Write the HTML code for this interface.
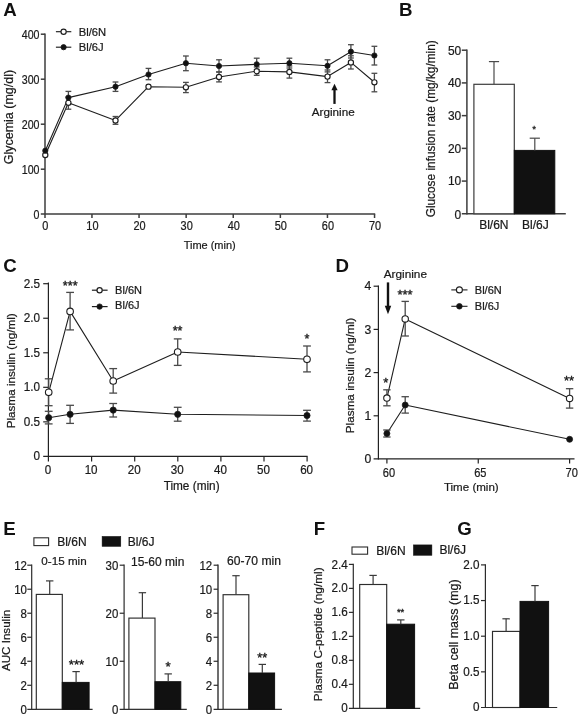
<!DOCTYPE html>
<html><head><meta charset="utf-8"><title>Figure</title>
<style>
html,body{margin:0;padding:0;background:#fff;}
body{width:578px;height:718px;overflow:hidden;font-family:"Liberation Sans",sans-serif;}
svg{display:block;will-change:transform;}
svg text{font-family:"Liberation Sans",sans-serif;}
</style></head><body>
<svg width="578" height="718" viewBox="0 0 578 718">
<rect x="0" y="0" width="578" height="718" fill="#ffffff"/>
<text transform="translate(3.3 15.7)" font-size="18.7" text-anchor="start" font-weight="bold" fill="#111">A</text>
<line x1="45" y1="33.5" x2="45" y2="218" stroke="#3c3c3c" stroke-width="1.5" stroke-linecap="butt"/>
<line x1="40.8" y1="214.1" x2="375.2" y2="214.1" stroke="#3c3c3c" stroke-width="1.5" stroke-linecap="butt"/>
<line x1="40.8" y1="34.2" x2="45" y2="34.2" stroke="#3c3c3c" stroke-width="1.5" stroke-linecap="butt"/>
<text transform="translate(39.5 38.6) scale(0.88 1)" font-size="12.1" text-anchor="end" font-weight="normal" fill="#1a1a1a" stroke="#1a1a1a" stroke-width="0.22">400</text>
<line x1="40.8" y1="79.2" x2="45" y2="79.2" stroke="#3c3c3c" stroke-width="1.5" stroke-linecap="butt"/>
<text transform="translate(39.5 83.6) scale(0.88 1)" font-size="12.1" text-anchor="end" font-weight="normal" fill="#1a1a1a" stroke="#1a1a1a" stroke-width="0.22">300</text>
<line x1="40.8" y1="124.2" x2="45" y2="124.2" stroke="#3c3c3c" stroke-width="1.5" stroke-linecap="butt"/>
<text transform="translate(39.5 128.6) scale(0.88 1)" font-size="12.1" text-anchor="end" font-weight="normal" fill="#1a1a1a" stroke="#1a1a1a" stroke-width="0.22">200</text>
<line x1="40.8" y1="169.2" x2="45" y2="169.2" stroke="#3c3c3c" stroke-width="1.5" stroke-linecap="butt"/>
<text transform="translate(39.5 173.6) scale(0.88 1)" font-size="12.1" text-anchor="end" font-weight="normal" fill="#1a1a1a" stroke="#1a1a1a" stroke-width="0.22">100</text>
<text transform="translate(39.5 218.6) scale(0.88 1)" font-size="12.1" text-anchor="end" font-weight="normal" fill="#1a1a1a" stroke="#1a1a1a" stroke-width="0.22">0</text>
<text transform="translate(45.35 229.8) scale(0.92 1)" font-size="11.9" text-anchor="middle" font-weight="normal" fill="#1a1a1a" stroke="#1a1a1a" stroke-width="0.22">0</text>
<line x1="91.95" y1="214.1" x2="91.95" y2="218" stroke="#3c3c3c" stroke-width="1.5" stroke-linecap="butt"/>
<text transform="translate(92.45 229.8) scale(0.92 1)" font-size="11.9" text-anchor="middle" font-weight="normal" fill="#1a1a1a" stroke="#1a1a1a" stroke-width="0.22">10</text>
<line x1="139.05" y1="214.1" x2="139.05" y2="218" stroke="#3c3c3c" stroke-width="1.5" stroke-linecap="butt"/>
<text transform="translate(139.55 229.8) scale(0.92 1)" font-size="11.9" text-anchor="middle" font-weight="normal" fill="#1a1a1a" stroke="#1a1a1a" stroke-width="0.22">20</text>
<line x1="186.15" y1="214.1" x2="186.15" y2="218" stroke="#3c3c3c" stroke-width="1.5" stroke-linecap="butt"/>
<text transform="translate(186.65 229.8) scale(0.92 1)" font-size="11.9" text-anchor="middle" font-weight="normal" fill="#1a1a1a" stroke="#1a1a1a" stroke-width="0.22">30</text>
<line x1="233.25" y1="214.1" x2="233.25" y2="218" stroke="#3c3c3c" stroke-width="1.5" stroke-linecap="butt"/>
<text transform="translate(233.75 229.8) scale(0.92 1)" font-size="11.9" text-anchor="middle" font-weight="normal" fill="#1a1a1a" stroke="#1a1a1a" stroke-width="0.22">40</text>
<line x1="280.35" y1="214.1" x2="280.35" y2="218" stroke="#3c3c3c" stroke-width="1.5" stroke-linecap="butt"/>
<text transform="translate(280.85 229.8) scale(0.92 1)" font-size="11.9" text-anchor="middle" font-weight="normal" fill="#1a1a1a" stroke="#1a1a1a" stroke-width="0.22">50</text>
<line x1="327.45" y1="214.1" x2="327.45" y2="218" stroke="#3c3c3c" stroke-width="1.5" stroke-linecap="butt"/>
<text transform="translate(327.95 229.8) scale(0.92 1)" font-size="11.9" text-anchor="middle" font-weight="normal" fill="#1a1a1a" stroke="#1a1a1a" stroke-width="0.22">60</text>
<line x1="374.55" y1="214.1" x2="374.55" y2="218" stroke="#3c3c3c" stroke-width="1.5" stroke-linecap="butt"/>
<text transform="translate(375.05 229.8) scale(0.92 1)" font-size="11.9" text-anchor="middle" font-weight="normal" fill="#1a1a1a" stroke="#1a1a1a" stroke-width="0.22">70</text>
<text transform="translate(209.7 248.5) scale(0.94 1)" font-size="11.7" text-anchor="middle" font-weight="normal" fill="#1a1a1a" stroke="#1a1a1a" stroke-width="0.22">Time (min)</text>
<text transform="translate(12.7 164.3) rotate(-90)" font-size="12.5" text-anchor="start" font-weight="normal" fill="#1a1a1a" stroke="#1a1a1a" stroke-width="0.22">Glycemia (mg/dl)</text>
<line x1="55.9" y1="31.7" x2="71.3" y2="31.7" stroke="#1e1e1e" stroke-width="1.15" stroke-linecap="butt"/>
<circle cx="63.6" cy="31.7" r="2.6" fill="#fff" stroke="#1e1e1e" stroke-width="1.15"/>
<line x1="55.9" y1="47.2" x2="71.3" y2="47.2" stroke="#1e1e1e" stroke-width="1.15" stroke-linecap="butt"/>
<circle cx="63.6" cy="47.2" r="2.6" fill="#111" stroke="#1e1e1e" stroke-width="0.9"/>
<text transform="translate(78.8 35.7)" font-size="11.2" text-anchor="start" font-weight="normal" fill="#1a1a1a" stroke="#1a1a1a" stroke-width="0.22">Bl/6N</text>
<text transform="translate(78.8 51.2)" font-size="11.2" text-anchor="start" font-weight="normal" fill="#1a1a1a" stroke="#1a1a1a" stroke-width="0.22">Bl/6J</text>
<polyline points="45.3,155 68.4,102.8 115.5,120.4 148.5,86.7 185.9,87.3 219,77 256.7,71.2 289.4,71.9 327.5,76.6 350.9,62.4 374.4,82.3" fill="none" stroke="#1e1e1e" stroke-width="1.12" stroke-linejoin="round"/>
<polyline points="45.3,150.7 68.4,97.6 115.5,86.7 148.5,74.5 185.9,63.2 219,66 256.7,64.3 289.4,63.2 327.5,65.8 350.9,51.7 374.4,55.5" fill="none" stroke="#1e1e1e" stroke-width="1.12" stroke-linejoin="round"/>
<line x1="68.4" y1="97" x2="68.4" y2="109.2" stroke="#4a4a4a" stroke-width="1.3" stroke-linecap="butt"/>
<line x1="65.5" y1="97" x2="71.3" y2="97" stroke="#4a4a4a" stroke-width="1.3" stroke-linecap="butt"/>
<line x1="65.5" y1="109.2" x2="71.3" y2="109.2" stroke="#4a4a4a" stroke-width="1.3" stroke-linecap="butt"/>
<line x1="115.5" y1="116.5" x2="115.5" y2="124.3" stroke="#4a4a4a" stroke-width="1.3" stroke-linecap="butt"/>
<line x1="112.6" y1="116.5" x2="118.4" y2="116.5" stroke="#4a4a4a" stroke-width="1.3" stroke-linecap="butt"/>
<line x1="112.6" y1="124.3" x2="118.4" y2="124.3" stroke="#4a4a4a" stroke-width="1.3" stroke-linecap="butt"/>
<line x1="185.9" y1="82.4" x2="185.9" y2="92.6" stroke="#4a4a4a" stroke-width="1.3" stroke-linecap="butt"/>
<line x1="183" y1="82.4" x2="188.8" y2="82.4" stroke="#4a4a4a" stroke-width="1.3" stroke-linecap="butt"/>
<line x1="183" y1="92.6" x2="188.8" y2="92.6" stroke="#4a4a4a" stroke-width="1.3" stroke-linecap="butt"/>
<line x1="219" y1="72" x2="219" y2="81.9" stroke="#4a4a4a" stroke-width="1.3" stroke-linecap="butt"/>
<line x1="216.1" y1="72" x2="221.9" y2="72" stroke="#4a4a4a" stroke-width="1.3" stroke-linecap="butt"/>
<line x1="216.1" y1="81.9" x2="221.9" y2="81.9" stroke="#4a4a4a" stroke-width="1.3" stroke-linecap="butt"/>
<line x1="256.7" y1="67" x2="256.7" y2="75.3" stroke="#4a4a4a" stroke-width="1.3" stroke-linecap="butt"/>
<line x1="253.8" y1="67" x2="259.6" y2="67" stroke="#4a4a4a" stroke-width="1.3" stroke-linecap="butt"/>
<line x1="253.8" y1="75.3" x2="259.6" y2="75.3" stroke="#4a4a4a" stroke-width="1.3" stroke-linecap="butt"/>
<line x1="289.4" y1="66" x2="289.4" y2="78.1" stroke="#4a4a4a" stroke-width="1.3" stroke-linecap="butt"/>
<line x1="286.5" y1="66" x2="292.3" y2="66" stroke="#4a4a4a" stroke-width="1.3" stroke-linecap="butt"/>
<line x1="286.5" y1="78.1" x2="292.3" y2="78.1" stroke="#4a4a4a" stroke-width="1.3" stroke-linecap="butt"/>
<line x1="327.5" y1="70" x2="327.5" y2="82.6" stroke="#4a4a4a" stroke-width="1.3" stroke-linecap="butt"/>
<line x1="324.6" y1="70" x2="330.4" y2="70" stroke="#4a4a4a" stroke-width="1.3" stroke-linecap="butt"/>
<line x1="324.6" y1="82.6" x2="330.4" y2="82.6" stroke="#4a4a4a" stroke-width="1.3" stroke-linecap="butt"/>
<line x1="350.9" y1="55.8" x2="350.9" y2="69" stroke="#4a4a4a" stroke-width="1.3" stroke-linecap="butt"/>
<line x1="348" y1="55.8" x2="353.8" y2="55.8" stroke="#4a4a4a" stroke-width="1.3" stroke-linecap="butt"/>
<line x1="348" y1="69" x2="353.8" y2="69" stroke="#4a4a4a" stroke-width="1.3" stroke-linecap="butt"/>
<line x1="374.4" y1="73.3" x2="374.4" y2="91.8" stroke="#4a4a4a" stroke-width="1.3" stroke-linecap="butt"/>
<line x1="371.5" y1="73.3" x2="377.3" y2="73.3" stroke="#4a4a4a" stroke-width="1.3" stroke-linecap="butt"/>
<line x1="371.5" y1="91.8" x2="377.3" y2="91.8" stroke="#4a4a4a" stroke-width="1.3" stroke-linecap="butt"/>
<line x1="68.4" y1="91.4" x2="68.4" y2="104" stroke="#4a4a4a" stroke-width="1.3" stroke-linecap="butt"/>
<line x1="65.5" y1="91.4" x2="71.3" y2="91.4" stroke="#4a4a4a" stroke-width="1.3" stroke-linecap="butt"/>
<line x1="65.5" y1="104" x2="71.3" y2="104" stroke="#4a4a4a" stroke-width="1.3" stroke-linecap="butt"/>
<line x1="115.5" y1="82" x2="115.5" y2="91.4" stroke="#4a4a4a" stroke-width="1.3" stroke-linecap="butt"/>
<line x1="112.6" y1="82" x2="118.4" y2="82" stroke="#4a4a4a" stroke-width="1.3" stroke-linecap="butt"/>
<line x1="112.6" y1="91.4" x2="118.4" y2="91.4" stroke="#4a4a4a" stroke-width="1.3" stroke-linecap="butt"/>
<line x1="148.5" y1="68.4" x2="148.5" y2="79.7" stroke="#4a4a4a" stroke-width="1.3" stroke-linecap="butt"/>
<line x1="145.6" y1="68.4" x2="151.4" y2="68.4" stroke="#4a4a4a" stroke-width="1.3" stroke-linecap="butt"/>
<line x1="145.6" y1="79.7" x2="151.4" y2="79.7" stroke="#4a4a4a" stroke-width="1.3" stroke-linecap="butt"/>
<line x1="185.9" y1="56" x2="185.9" y2="70.7" stroke="#4a4a4a" stroke-width="1.3" stroke-linecap="butt"/>
<line x1="183" y1="56" x2="188.8" y2="56" stroke="#4a4a4a" stroke-width="1.3" stroke-linecap="butt"/>
<line x1="183" y1="70.7" x2="188.8" y2="70.7" stroke="#4a4a4a" stroke-width="1.3" stroke-linecap="butt"/>
<line x1="219" y1="59.8" x2="219" y2="72" stroke="#4a4a4a" stroke-width="1.3" stroke-linecap="butt"/>
<line x1="216.1" y1="59.8" x2="221.9" y2="59.8" stroke="#4a4a4a" stroke-width="1.3" stroke-linecap="butt"/>
<line x1="216.1" y1="72" x2="221.9" y2="72" stroke="#4a4a4a" stroke-width="1.3" stroke-linecap="butt"/>
<line x1="256.7" y1="58.2" x2="256.7" y2="69.5" stroke="#4a4a4a" stroke-width="1.3" stroke-linecap="butt"/>
<line x1="253.8" y1="58.2" x2="259.6" y2="58.2" stroke="#4a4a4a" stroke-width="1.3" stroke-linecap="butt"/>
<line x1="253.8" y1="69.5" x2="259.6" y2="69.5" stroke="#4a4a4a" stroke-width="1.3" stroke-linecap="butt"/>
<line x1="289.4" y1="58.2" x2="289.4" y2="68" stroke="#4a4a4a" stroke-width="1.3" stroke-linecap="butt"/>
<line x1="286.5" y1="58.2" x2="292.3" y2="58.2" stroke="#4a4a4a" stroke-width="1.3" stroke-linecap="butt"/>
<line x1="286.5" y1="68" x2="292.3" y2="68" stroke="#4a4a4a" stroke-width="1.3" stroke-linecap="butt"/>
<line x1="327.5" y1="59.8" x2="327.5" y2="71.9" stroke="#4a4a4a" stroke-width="1.3" stroke-linecap="butt"/>
<line x1="324.6" y1="59.8" x2="330.4" y2="59.8" stroke="#4a4a4a" stroke-width="1.3" stroke-linecap="butt"/>
<line x1="324.6" y1="71.9" x2="330.4" y2="71.9" stroke="#4a4a4a" stroke-width="1.3" stroke-linecap="butt"/>
<line x1="350.9" y1="44.7" x2="350.9" y2="58" stroke="#4a4a4a" stroke-width="1.3" stroke-linecap="butt"/>
<line x1="348" y1="44.7" x2="353.8" y2="44.7" stroke="#4a4a4a" stroke-width="1.3" stroke-linecap="butt"/>
<line x1="348" y1="58" x2="353.8" y2="58" stroke="#4a4a4a" stroke-width="1.3" stroke-linecap="butt"/>
<line x1="374.4" y1="46.3" x2="374.4" y2="65" stroke="#4a4a4a" stroke-width="1.3" stroke-linecap="butt"/>
<line x1="371.5" y1="46.3" x2="377.3" y2="46.3" stroke="#4a4a4a" stroke-width="1.3" stroke-linecap="butt"/>
<line x1="371.5" y1="65" x2="377.3" y2="65" stroke="#4a4a4a" stroke-width="1.3" stroke-linecap="butt"/>
<circle cx="45.3" cy="155" r="2.6" fill="#fff" stroke="#1e1e1e" stroke-width="1.15"/>
<circle cx="68.4" cy="102.8" r="2.6" fill="#fff" stroke="#1e1e1e" stroke-width="1.15"/>
<circle cx="115.5" cy="120.4" r="2.6" fill="#fff" stroke="#1e1e1e" stroke-width="1.15"/>
<circle cx="148.5" cy="86.7" r="2.6" fill="#fff" stroke="#1e1e1e" stroke-width="1.15"/>
<circle cx="185.9" cy="87.3" r="2.6" fill="#fff" stroke="#1e1e1e" stroke-width="1.15"/>
<circle cx="219" cy="77" r="2.6" fill="#fff" stroke="#1e1e1e" stroke-width="1.15"/>
<circle cx="256.7" cy="71.2" r="2.6" fill="#fff" stroke="#1e1e1e" stroke-width="1.15"/>
<circle cx="289.4" cy="71.9" r="2.6" fill="#fff" stroke="#1e1e1e" stroke-width="1.15"/>
<circle cx="327.5" cy="76.6" r="2.6" fill="#fff" stroke="#1e1e1e" stroke-width="1.15"/>
<circle cx="350.9" cy="62.4" r="2.6" fill="#fff" stroke="#1e1e1e" stroke-width="1.15"/>
<circle cx="374.4" cy="82.3" r="2.6" fill="#fff" stroke="#1e1e1e" stroke-width="1.15"/>
<circle cx="45.3" cy="150.7" r="2.6" fill="#111" stroke="#1e1e1e" stroke-width="0.9"/>
<circle cx="68.4" cy="97.6" r="2.6" fill="#111" stroke="#1e1e1e" stroke-width="0.9"/>
<circle cx="115.5" cy="86.7" r="2.6" fill="#111" stroke="#1e1e1e" stroke-width="0.9"/>
<circle cx="148.5" cy="74.5" r="2.6" fill="#111" stroke="#1e1e1e" stroke-width="0.9"/>
<circle cx="185.9" cy="63.2" r="2.6" fill="#111" stroke="#1e1e1e" stroke-width="0.9"/>
<circle cx="219" cy="66" r="2.6" fill="#111" stroke="#1e1e1e" stroke-width="0.9"/>
<circle cx="256.7" cy="64.3" r="2.6" fill="#111" stroke="#1e1e1e" stroke-width="0.9"/>
<circle cx="289.4" cy="63.2" r="2.6" fill="#111" stroke="#1e1e1e" stroke-width="0.9"/>
<circle cx="327.5" cy="65.8" r="2.6" fill="#111" stroke="#1e1e1e" stroke-width="0.9"/>
<circle cx="350.9" cy="51.7" r="2.6" fill="#111" stroke="#1e1e1e" stroke-width="0.9"/>
<circle cx="374.4" cy="55.5" r="2.6" fill="#111" stroke="#1e1e1e" stroke-width="0.9"/>
<line x1="334.5" y1="103.9" x2="334.5" y2="87.66" stroke="#111" stroke-width="2.3" stroke-linecap="butt"/>
<polygon points="331.4,90.3 337.6,90.3 334.5,83.7" fill="#111"/>
<text transform="translate(333.2 116)" font-size="11.7" text-anchor="middle" font-weight="normal" fill="#1a1a1a" stroke="#1a1a1a" stroke-width="0.22">Arginine</text>
<text transform="translate(399 15.8)" font-size="18.7" text-anchor="start" font-weight="bold" fill="#111">B</text>
<line x1="466.9" y1="49.6" x2="466.9" y2="214.5" stroke="#3c3c3c" stroke-width="1.5" stroke-linecap="butt"/>
<line x1="461.8" y1="213.8" x2="565.8" y2="213.8" stroke="#3c3c3c" stroke-width="1.5" stroke-linecap="butt"/>
<line x1="461.8" y1="50.2" x2="466.9" y2="50.2" stroke="#3c3c3c" stroke-width="1.5" stroke-linecap="butt"/>
<text transform="translate(461.2 54.6) scale(0.92 1)" font-size="13.0" text-anchor="end" font-weight="normal" fill="#1a1a1a" stroke="#1a1a1a" stroke-width="0.22">50</text>
<line x1="461.8" y1="82.92" x2="466.9" y2="82.92" stroke="#3c3c3c" stroke-width="1.5" stroke-linecap="butt"/>
<text transform="translate(461.2 87.32) scale(0.92 1)" font-size="13.0" text-anchor="end" font-weight="normal" fill="#1a1a1a" stroke="#1a1a1a" stroke-width="0.22">40</text>
<line x1="461.8" y1="115.64" x2="466.9" y2="115.64" stroke="#3c3c3c" stroke-width="1.5" stroke-linecap="butt"/>
<text transform="translate(461.2 120.04) scale(0.92 1)" font-size="13.0" text-anchor="end" font-weight="normal" fill="#1a1a1a" stroke="#1a1a1a" stroke-width="0.22">30</text>
<line x1="461.8" y1="148.36" x2="466.9" y2="148.36" stroke="#3c3c3c" stroke-width="1.5" stroke-linecap="butt"/>
<text transform="translate(461.2 152.76) scale(0.92 1)" font-size="13.0" text-anchor="end" font-weight="normal" fill="#1a1a1a" stroke="#1a1a1a" stroke-width="0.22">20</text>
<line x1="461.8" y1="181.08" x2="466.9" y2="181.08" stroke="#3c3c3c" stroke-width="1.5" stroke-linecap="butt"/>
<text transform="translate(461.2 185.48) scale(0.92 1)" font-size="13.0" text-anchor="end" font-weight="normal" fill="#1a1a1a" stroke="#1a1a1a" stroke-width="0.22">10</text>
<text transform="translate(461.2 219.1) scale(0.92 1)" font-size="13.0" text-anchor="end" font-weight="normal" fill="#1a1a1a" stroke="#1a1a1a" stroke-width="0.22">0</text>
<rect x="473.9" y="84.3" width="40.4" height="129.5" fill="#fff" stroke="#3c3c3c" stroke-width="1.2"/>
<rect x="514.3" y="150.4" width="40.5" height="63.4" fill="#111" stroke="#111" stroke-width="1.0"/>
<line x1="494" y1="61.6" x2="494" y2="84.3" stroke="#4a4a4a" stroke-width="1.2" stroke-linecap="butt"/>
<line x1="488.9" y1="61.6" x2="499.1" y2="61.6" stroke="#4a4a4a" stroke-width="1.2" stroke-linecap="butt"/>
<line x1="534.8" y1="138.2" x2="534.8" y2="150.4" stroke="#4a4a4a" stroke-width="1.2" stroke-linecap="butt"/>
<line x1="529.7" y1="138.2" x2="539.9" y2="138.2" stroke="#4a4a4a" stroke-width="1.2" stroke-linecap="butt"/>
<text transform="translate(534.1 131.9)" font-size="9.8" text-anchor="middle" font-weight="normal" fill="#1a1a1a" stroke="#1a1a1a" stroke-width="0.3">*</text>
<text transform="translate(493.8 228.7)" font-size="12.0" text-anchor="middle" font-weight="normal" fill="#1a1a1a" stroke="#1a1a1a" stroke-width="0.22">Bl/6N</text>
<text transform="translate(535.4 228.7)" font-size="12.0" text-anchor="middle" font-weight="normal" fill="#1a1a1a" stroke="#1a1a1a" stroke-width="0.22">Bl/6J</text>
<text transform="translate(434.8 128.8) rotate(-90)" font-size="11.85" text-anchor="middle" font-weight="normal" fill="#1a1a1a" stroke="#1a1a1a" stroke-width="0.22">Glucose infusion rate (mg/kg/min)</text>
<text transform="translate(3.3 272)" font-size="18.7" text-anchor="start" font-weight="bold" fill="#111">C</text>
<line x1="48.4" y1="282.6" x2="48.4" y2="461.5" stroke="#222" stroke-width="1.2" stroke-linecap="butt"/>
<line x1="43.2" y1="456.4" x2="307.6" y2="456.4" stroke="#222" stroke-width="1.2" stroke-linecap="butt"/>
<line x1="43.2" y1="283.7" x2="48.4" y2="283.7" stroke="#222" stroke-width="1.2" stroke-linecap="butt"/>
<text transform="translate(40 287.6) scale(0.89 1)" font-size="13.2" text-anchor="end" font-weight="normal" fill="#1a1a1a" stroke="#1a1a1a" stroke-width="0.22">2.5</text>
<line x1="43.2" y1="318.24" x2="48.4" y2="318.24" stroke="#222" stroke-width="1.2" stroke-linecap="butt"/>
<text transform="translate(40 322.14) scale(0.89 1)" font-size="13.2" text-anchor="end" font-weight="normal" fill="#1a1a1a" stroke="#1a1a1a" stroke-width="0.22">2.0</text>
<line x1="43.2" y1="352.78" x2="48.4" y2="352.78" stroke="#222" stroke-width="1.2" stroke-linecap="butt"/>
<text transform="translate(40 356.68) scale(0.89 1)" font-size="13.2" text-anchor="end" font-weight="normal" fill="#1a1a1a" stroke="#1a1a1a" stroke-width="0.22">1.5</text>
<line x1="43.2" y1="387.32" x2="48.4" y2="387.32" stroke="#222" stroke-width="1.2" stroke-linecap="butt"/>
<text transform="translate(40 391.22) scale(0.89 1)" font-size="13.2" text-anchor="end" font-weight="normal" fill="#1a1a1a" stroke="#1a1a1a" stroke-width="0.22">1.0</text>
<line x1="43.2" y1="421.86" x2="48.4" y2="421.86" stroke="#222" stroke-width="1.2" stroke-linecap="butt"/>
<text transform="translate(40 425.76) scale(0.89 1)" font-size="13.2" text-anchor="end" font-weight="normal" fill="#1a1a1a" stroke="#1a1a1a" stroke-width="0.22">0.5</text>
<text transform="translate(40 460.3) scale(0.89 1)" font-size="13.2" text-anchor="end" font-weight="normal" fill="#1a1a1a" stroke="#1a1a1a" stroke-width="0.22">0</text>
<text transform="translate(48 474) scale(0.9 1)" font-size="12.9" text-anchor="middle" font-weight="normal" fill="#1a1a1a" stroke="#1a1a1a" stroke-width="0.22">0</text>
<line x1="91.6" y1="456.4" x2="91.6" y2="461.5" stroke="#222" stroke-width="1.2" stroke-linecap="butt"/>
<text transform="translate(91.1 474) scale(0.9 1)" font-size="12.9" text-anchor="middle" font-weight="normal" fill="#1a1a1a" stroke="#1a1a1a" stroke-width="0.22">10</text>
<line x1="134.7" y1="456.4" x2="134.7" y2="461.5" stroke="#222" stroke-width="1.2" stroke-linecap="butt"/>
<text transform="translate(134.2 474) scale(0.9 1)" font-size="12.9" text-anchor="middle" font-weight="normal" fill="#1a1a1a" stroke="#1a1a1a" stroke-width="0.22">20</text>
<line x1="177.8" y1="456.4" x2="177.8" y2="461.5" stroke="#222" stroke-width="1.2" stroke-linecap="butt"/>
<text transform="translate(177.3 474) scale(0.9 1)" font-size="12.9" text-anchor="middle" font-weight="normal" fill="#1a1a1a" stroke="#1a1a1a" stroke-width="0.22">30</text>
<line x1="220.9" y1="456.4" x2="220.9" y2="461.5" stroke="#222" stroke-width="1.2" stroke-linecap="butt"/>
<text transform="translate(220.4 474) scale(0.9 1)" font-size="12.9" text-anchor="middle" font-weight="normal" fill="#1a1a1a" stroke="#1a1a1a" stroke-width="0.22">40</text>
<line x1="264" y1="456.4" x2="264" y2="461.5" stroke="#222" stroke-width="1.2" stroke-linecap="butt"/>
<text transform="translate(263.5 474) scale(0.9 1)" font-size="12.9" text-anchor="middle" font-weight="normal" fill="#1a1a1a" stroke="#1a1a1a" stroke-width="0.22">50</text>
<line x1="307.1" y1="456.4" x2="307.1" y2="461.5" stroke="#222" stroke-width="1.2" stroke-linecap="butt"/>
<text transform="translate(306.6 474) scale(0.9 1)" font-size="12.9" text-anchor="middle" font-weight="normal" fill="#1a1a1a" stroke="#1a1a1a" stroke-width="0.22">60</text>
<text transform="translate(191.6 489.5) scale(0.96 1)" font-size="12.3" text-anchor="middle" font-weight="normal" fill="#1a1a1a" stroke="#1a1a1a" stroke-width="0.22">Time (min)</text>
<text transform="translate(15 428.3) rotate(-90)" font-size="11.7" text-anchor="start" font-weight="normal" fill="#1a1a1a" stroke="#1a1a1a" stroke-width="0.22">Plasma insulin (ng/ml)</text>
<line x1="91.9" y1="290.2" x2="107.6" y2="290.2" stroke="#1e1e1e" stroke-width="1.2" stroke-linecap="butt"/>
<circle cx="99.6" cy="290.2" r="2.6" fill="#fff" stroke="#1e1e1e" stroke-width="1.2"/>
<line x1="91.9" y1="306.6" x2="107.6" y2="306.6" stroke="#1e1e1e" stroke-width="1.2" stroke-linecap="butt"/>
<circle cx="99.6" cy="306.6" r="2.7" fill="#111" stroke="#1e1e1e" stroke-width="0.8"/>
<text transform="translate(115.1 293.5)" font-size="11.0" text-anchor="start" font-weight="normal" fill="#1a1a1a" stroke="#1a1a1a" stroke-width="0.22">Bl/6N</text>
<text transform="translate(115.1 309.4)" font-size="11.0" text-anchor="start" font-weight="normal" fill="#1a1a1a" stroke="#1a1a1a" stroke-width="0.22">Bl/6J</text>
<polyline points="48.7,392.3 70.1,311.4 113.2,381 177.7,352 307,359.3" fill="none" stroke="#1e1e1e" stroke-width="1.1" stroke-linejoin="round"/>
<polyline points="48.7,417.7 70.1,414.3 113.2,410.1 177.7,414.3 307,415.5" fill="none" stroke="#1e1e1e" stroke-width="1.1" stroke-linejoin="round"/>
<line x1="48.7" y1="378.8" x2="48.7" y2="405.7" stroke="#4a4a4a" stroke-width="1.3" stroke-linecap="butt"/>
<line x1="44.8" y1="378.8" x2="52.6" y2="378.8" stroke="#4a4a4a" stroke-width="1.3" stroke-linecap="butt"/>
<line x1="44.8" y1="405.7" x2="52.6" y2="405.7" stroke="#4a4a4a" stroke-width="1.3" stroke-linecap="butt"/>
<line x1="70.1" y1="292.4" x2="70.1" y2="329.9" stroke="#4a4a4a" stroke-width="1.3" stroke-linecap="butt"/>
<line x1="66.2" y1="292.4" x2="74" y2="292.4" stroke="#4a4a4a" stroke-width="1.3" stroke-linecap="butt"/>
<line x1="66.2" y1="329.9" x2="74" y2="329.9" stroke="#4a4a4a" stroke-width="1.3" stroke-linecap="butt"/>
<line x1="113.2" y1="368.6" x2="113.2" y2="393.1" stroke="#4a4a4a" stroke-width="1.3" stroke-linecap="butt"/>
<line x1="109.3" y1="368.6" x2="117.1" y2="368.6" stroke="#4a4a4a" stroke-width="1.3" stroke-linecap="butt"/>
<line x1="109.3" y1="393.1" x2="117.1" y2="393.1" stroke="#4a4a4a" stroke-width="1.3" stroke-linecap="butt"/>
<line x1="177.7" y1="338.9" x2="177.7" y2="365.4" stroke="#4a4a4a" stroke-width="1.3" stroke-linecap="butt"/>
<line x1="173.8" y1="338.9" x2="181.6" y2="338.9" stroke="#4a4a4a" stroke-width="1.3" stroke-linecap="butt"/>
<line x1="173.8" y1="365.4" x2="181.6" y2="365.4" stroke="#4a4a4a" stroke-width="1.3" stroke-linecap="butt"/>
<line x1="307" y1="346" x2="307" y2="371.9" stroke="#4a4a4a" stroke-width="1.3" stroke-linecap="butt"/>
<line x1="303.1" y1="346" x2="310.9" y2="346" stroke="#4a4a4a" stroke-width="1.3" stroke-linecap="butt"/>
<line x1="303.1" y1="371.9" x2="310.9" y2="371.9" stroke="#4a4a4a" stroke-width="1.3" stroke-linecap="butt"/>
<line x1="48.7" y1="411.3" x2="48.7" y2="423.9" stroke="#4a4a4a" stroke-width="1.3" stroke-linecap="butt"/>
<line x1="44.8" y1="411.3" x2="52.6" y2="411.3" stroke="#4a4a4a" stroke-width="1.3" stroke-linecap="butt"/>
<line x1="44.8" y1="423.9" x2="52.6" y2="423.9" stroke="#4a4a4a" stroke-width="1.3" stroke-linecap="butt"/>
<line x1="70.1" y1="405.3" x2="70.1" y2="423.4" stroke="#4a4a4a" stroke-width="1.3" stroke-linecap="butt"/>
<line x1="66.2" y1="405.3" x2="74" y2="405.3" stroke="#4a4a4a" stroke-width="1.3" stroke-linecap="butt"/>
<line x1="66.2" y1="423.4" x2="74" y2="423.4" stroke="#4a4a4a" stroke-width="1.3" stroke-linecap="butt"/>
<line x1="113.2" y1="403.5" x2="113.2" y2="417" stroke="#4a4a4a" stroke-width="1.3" stroke-linecap="butt"/>
<line x1="109.3" y1="403.5" x2="117.1" y2="403.5" stroke="#4a4a4a" stroke-width="1.3" stroke-linecap="butt"/>
<line x1="109.3" y1="417" x2="117.1" y2="417" stroke="#4a4a4a" stroke-width="1.3" stroke-linecap="butt"/>
<line x1="177.7" y1="407.3" x2="177.7" y2="421.2" stroke="#4a4a4a" stroke-width="1.3" stroke-linecap="butt"/>
<line x1="173.8" y1="407.3" x2="181.6" y2="407.3" stroke="#4a4a4a" stroke-width="1.3" stroke-linecap="butt"/>
<line x1="173.8" y1="421.2" x2="181.6" y2="421.2" stroke="#4a4a4a" stroke-width="1.3" stroke-linecap="butt"/>
<line x1="307" y1="410.3" x2="307" y2="421.1" stroke="#4a4a4a" stroke-width="1.3" stroke-linecap="butt"/>
<line x1="303.1" y1="410.3" x2="310.9" y2="410.3" stroke="#4a4a4a" stroke-width="1.3" stroke-linecap="butt"/>
<line x1="303.1" y1="421.1" x2="310.9" y2="421.1" stroke="#4a4a4a" stroke-width="1.3" stroke-linecap="butt"/>
<circle cx="48.7" cy="392.3" r="3.3" fill="#fff" stroke="#1e1e1e" stroke-width="1.1"/>
<circle cx="70.1" cy="311.4" r="3.3" fill="#fff" stroke="#1e1e1e" stroke-width="1.1"/>
<circle cx="113.2" cy="381" r="3.3" fill="#fff" stroke="#1e1e1e" stroke-width="1.1"/>
<circle cx="177.7" cy="352" r="3.3" fill="#fff" stroke="#1e1e1e" stroke-width="1.1"/>
<circle cx="307" cy="359.3" r="3.3" fill="#fff" stroke="#1e1e1e" stroke-width="1.1"/>
<circle cx="48.7" cy="417.7" r="3.1" fill="#111" stroke="#1e1e1e" stroke-width="0.8"/>
<circle cx="70.1" cy="414.3" r="3.1" fill="#111" stroke="#1e1e1e" stroke-width="0.8"/>
<circle cx="113.2" cy="410.1" r="3.1" fill="#111" stroke="#1e1e1e" stroke-width="0.8"/>
<circle cx="177.7" cy="414.3" r="3.1" fill="#111" stroke="#1e1e1e" stroke-width="0.8"/>
<circle cx="307" cy="415.5" r="3.1" fill="#111" stroke="#1e1e1e" stroke-width="0.8"/>
<text transform="translate(70.2 290.2)" font-size="12.6" text-anchor="middle" font-weight="normal" fill="#1a1a1a" stroke="#1a1a1a" stroke-width="0.35">***</text>
<text transform="translate(177.6 335)" font-size="12.6" text-anchor="middle" font-weight="normal" fill="#1a1a1a" stroke="#1a1a1a" stroke-width="0.35">**</text>
<text transform="translate(307 343.2)" font-size="12.6" text-anchor="middle" font-weight="normal" fill="#1a1a1a" stroke="#1a1a1a" stroke-width="0.35">*</text>
<text transform="translate(335.6 271.8)" font-size="18.7" text-anchor="start" font-weight="bold" fill="#111">D</text>
<line x1="378.4" y1="285.6" x2="378.4" y2="459.5" stroke="#222" stroke-width="1.2" stroke-linecap="butt"/>
<line x1="373.6" y1="458.9" x2="574.5" y2="458.9" stroke="#222" stroke-width="1.2" stroke-linecap="butt"/>
<line x1="373.6" y1="286.2" x2="378.4" y2="286.2" stroke="#222" stroke-width="1.2" stroke-linecap="butt"/>
<text transform="translate(371.3 290.4) scale(0.925 1)" font-size="13.2" text-anchor="end" font-weight="normal" fill="#1a1a1a" stroke="#1a1a1a" stroke-width="0.22">4</text>
<line x1="373.6" y1="329.4" x2="378.4" y2="329.4" stroke="#222" stroke-width="1.2" stroke-linecap="butt"/>
<text transform="translate(371.3 333.6) scale(0.925 1)" font-size="13.2" text-anchor="end" font-weight="normal" fill="#1a1a1a" stroke="#1a1a1a" stroke-width="0.22">3</text>
<line x1="373.6" y1="372.6" x2="378.4" y2="372.6" stroke="#222" stroke-width="1.2" stroke-linecap="butt"/>
<text transform="translate(371.3 376.8) scale(0.925 1)" font-size="13.2" text-anchor="end" font-weight="normal" fill="#1a1a1a" stroke="#1a1a1a" stroke-width="0.22">2</text>
<line x1="373.6" y1="415.8" x2="378.4" y2="415.8" stroke="#222" stroke-width="1.2" stroke-linecap="butt"/>
<text transform="translate(371.3 420) scale(0.925 1)" font-size="13.2" text-anchor="end" font-weight="normal" fill="#1a1a1a" stroke="#1a1a1a" stroke-width="0.22">1</text>
<text transform="translate(371.3 463.2) scale(0.925 1)" font-size="13.2" text-anchor="end" font-weight="normal" fill="#1a1a1a" stroke="#1a1a1a" stroke-width="0.22">0</text>
<line x1="386.9" y1="458.9" x2="386.9" y2="463.5" stroke="#222" stroke-width="1.2" stroke-linecap="butt"/>
<text transform="translate(389 476.7) scale(0.9 1)" font-size="12.3" text-anchor="middle" font-weight="normal" fill="#1a1a1a" stroke="#1a1a1a" stroke-width="0.22">60</text>
<line x1="478.25" y1="458.9" x2="478.25" y2="463.5" stroke="#222" stroke-width="1.2" stroke-linecap="butt"/>
<text transform="translate(480.35 476.7) scale(0.9 1)" font-size="12.3" text-anchor="middle" font-weight="normal" fill="#1a1a1a" stroke="#1a1a1a" stroke-width="0.22">65</text>
<line x1="569.6" y1="458.9" x2="569.6" y2="463.5" stroke="#222" stroke-width="1.2" stroke-linecap="butt"/>
<text transform="translate(571.7 476.7) scale(0.9 1)" font-size="12.3" text-anchor="middle" font-weight="normal" fill="#1a1a1a" stroke="#1a1a1a" stroke-width="0.22">70</text>
<text transform="translate(471.3 491.3) scale(0.98 1)" font-size="11.8" text-anchor="middle" font-weight="normal" fill="#1a1a1a" stroke="#1a1a1a" stroke-width="0.22">Time (min)</text>
<text transform="translate(353.7 433.3) rotate(-90)" font-size="11.75" text-anchor="start" font-weight="normal" fill="#1a1a1a" stroke="#1a1a1a" stroke-width="0.22">Plasma insulin (ng/ml)</text>
<line x1="451.3" y1="289.9" x2="467.5" y2="289.9" stroke="#1e1e1e" stroke-width="1.1" stroke-linecap="butt"/>
<circle cx="459.4" cy="289.9" r="3" fill="#fff" stroke="#1e1e1e" stroke-width="1.1"/>
<line x1="451.3" y1="306.3" x2="467.5" y2="306.3" stroke="#1e1e1e" stroke-width="1.1" stroke-linecap="butt"/>
<circle cx="459.4" cy="306.3" r="2.8" fill="#111" stroke="#1e1e1e" stroke-width="0.8"/>
<text transform="translate(474.8 293.9)" font-size="11.0" text-anchor="start" font-weight="normal" fill="#1a1a1a" stroke="#1a1a1a" stroke-width="0.22">Bl/6N</text>
<text transform="translate(474.8 310.3)" font-size="11.0" text-anchor="start" font-weight="normal" fill="#1a1a1a" stroke="#1a1a1a" stroke-width="0.22">Bl/6J</text>
<polyline points="386.9,398.1 405.2,318.9 569.6,398.4" fill="none" stroke="#1e1e1e" stroke-width="1.1" stroke-linejoin="round"/>
<polyline points="386.9,433.5 405.2,405 569.6,439.3" fill="none" stroke="#1e1e1e" stroke-width="1.1" stroke-linejoin="round"/>
<line x1="386.9" y1="389.8" x2="386.9" y2="405.8" stroke="#4a4a4a" stroke-width="1.3" stroke-linecap="butt"/>
<line x1="383.2" y1="389.8" x2="390.6" y2="389.8" stroke="#4a4a4a" stroke-width="1.3" stroke-linecap="butt"/>
<line x1="383.2" y1="405.8" x2="390.6" y2="405.8" stroke="#4a4a4a" stroke-width="1.3" stroke-linecap="butt"/>
<line x1="405.2" y1="301.4" x2="405.2" y2="336" stroke="#4a4a4a" stroke-width="1.3" stroke-linecap="butt"/>
<line x1="401.5" y1="301.4" x2="408.9" y2="301.4" stroke="#4a4a4a" stroke-width="1.3" stroke-linecap="butt"/>
<line x1="401.5" y1="336" x2="408.9" y2="336" stroke="#4a4a4a" stroke-width="1.3" stroke-linecap="butt"/>
<line x1="569.6" y1="388.7" x2="569.6" y2="408.1" stroke="#4a4a4a" stroke-width="1.3" stroke-linecap="butt"/>
<line x1="565.9" y1="388.7" x2="573.3" y2="388.7" stroke="#4a4a4a" stroke-width="1.3" stroke-linecap="butt"/>
<line x1="565.9" y1="408.1" x2="573.3" y2="408.1" stroke="#4a4a4a" stroke-width="1.3" stroke-linecap="butt"/>
<line x1="386.9" y1="430" x2="386.9" y2="437" stroke="#4a4a4a" stroke-width="1.3" stroke-linecap="butt"/>
<line x1="383.2" y1="430" x2="390.6" y2="430" stroke="#4a4a4a" stroke-width="1.3" stroke-linecap="butt"/>
<line x1="383.2" y1="437" x2="390.6" y2="437" stroke="#4a4a4a" stroke-width="1.3" stroke-linecap="butt"/>
<line x1="405.2" y1="396.7" x2="405.2" y2="413.1" stroke="#4a4a4a" stroke-width="1.3" stroke-linecap="butt"/>
<line x1="401.5" y1="396.7" x2="408.9" y2="396.7" stroke="#4a4a4a" stroke-width="1.3" stroke-linecap="butt"/>
<line x1="401.5" y1="413.1" x2="408.9" y2="413.1" stroke="#4a4a4a" stroke-width="1.3" stroke-linecap="butt"/>
<circle cx="386.9" cy="398.1" r="3.2" fill="#fff" stroke="#1e1e1e" stroke-width="1.1"/>
<circle cx="405.2" cy="318.9" r="3.2" fill="#fff" stroke="#1e1e1e" stroke-width="1.1"/>
<circle cx="569.6" cy="398.4" r="3.2" fill="#fff" stroke="#1e1e1e" stroke-width="1.1"/>
<circle cx="386.9" cy="433.5" r="3" fill="#111" stroke="#1e1e1e" stroke-width="0.8"/>
<circle cx="405.2" cy="405" r="3" fill="#111" stroke="#1e1e1e" stroke-width="0.8"/>
<circle cx="569.6" cy="439.3" r="3" fill="#111" stroke="#1e1e1e" stroke-width="0.8"/>
<text transform="translate(405.3 278.2)" font-size="11.8" text-anchor="middle" font-weight="normal" fill="#1a1a1a" stroke="#1a1a1a" stroke-width="0.22">Arginine</text>
<line x1="388" y1="282.4" x2="388" y2="309.16" stroke="#111" stroke-width="2.4" stroke-linecap="butt"/>
<polygon points="384.8,305.8 391.2,305.8 388,314.2" fill="#111"/>
<text transform="translate(405.1 299)" font-size="13.0" text-anchor="middle" font-weight="normal" fill="#1a1a1a" stroke="#1a1a1a" stroke-width="0.35">***</text>
<text transform="translate(385.8 386.6)" font-size="13.0" text-anchor="middle" font-weight="normal" fill="#1a1a1a" stroke="#1a1a1a" stroke-width="0.35">*</text>
<text transform="translate(569 385.2)" font-size="13.0" text-anchor="middle" font-weight="normal" fill="#1a1a1a" stroke="#1a1a1a" stroke-width="0.35">**</text>
<text transform="translate(3.2 534.6)" font-size="18.7" text-anchor="start" font-weight="bold" fill="#111">E</text>
<rect x="33.9" y="537.8" width="14.7" height="7.8" fill="#fff" stroke="#2c2c2c" stroke-width="1.1"/>
<rect x="102.1" y="536.4" width="18.7" height="10" fill="#111" stroke="#111" stroke-width="0.5"/>
<text transform="translate(57.2 546)" font-size="12.0" text-anchor="start" font-weight="normal" fill="#1a1a1a" stroke="#1a1a1a" stroke-width="0.22">Bl/6N</text>
<text transform="translate(127.8 545.5)" font-size="12.0" text-anchor="start" font-weight="normal" fill="#1a1a1a" stroke="#1a1a1a" stroke-width="0.22">Bl/6J</text>
<line x1="31.7" y1="564.6" x2="31.7" y2="709.9" stroke="#2c2c2c" stroke-width="1.2" stroke-linecap="butt"/>
<line x1="27.3" y1="709.3" x2="92.6" y2="709.3" stroke="#2c2c2c" stroke-width="1.2" stroke-linecap="butt"/>
<line x1="27.3" y1="565.2" x2="31.7" y2="565.2" stroke="#2c2c2c" stroke-width="1.2" stroke-linecap="butt"/>
<text transform="translate(27 569.7) scale(0.91 1)" font-size="12.6" text-anchor="end" font-weight="normal" fill="#1a1a1a" stroke="#1a1a1a" stroke-width="0.22">12</text>
<line x1="27.3" y1="589.22" x2="31.7" y2="589.22" stroke="#2c2c2c" stroke-width="1.2" stroke-linecap="butt"/>
<text transform="translate(27 593.72) scale(0.91 1)" font-size="12.6" text-anchor="end" font-weight="normal" fill="#1a1a1a" stroke="#1a1a1a" stroke-width="0.22">10</text>
<line x1="27.3" y1="613.23" x2="31.7" y2="613.23" stroke="#2c2c2c" stroke-width="1.2" stroke-linecap="butt"/>
<text transform="translate(27 617.73) scale(0.91 1)" font-size="12.6" text-anchor="end" font-weight="normal" fill="#1a1a1a" stroke="#1a1a1a" stroke-width="0.22">8</text>
<line x1="27.3" y1="637.25" x2="31.7" y2="637.25" stroke="#2c2c2c" stroke-width="1.2" stroke-linecap="butt"/>
<text transform="translate(27 641.75) scale(0.91 1)" font-size="12.6" text-anchor="end" font-weight="normal" fill="#1a1a1a" stroke="#1a1a1a" stroke-width="0.22">6</text>
<line x1="27.3" y1="661.27" x2="31.7" y2="661.27" stroke="#2c2c2c" stroke-width="1.2" stroke-linecap="butt"/>
<text transform="translate(27 665.77) scale(0.91 1)" font-size="12.6" text-anchor="end" font-weight="normal" fill="#1a1a1a" stroke="#1a1a1a" stroke-width="0.22">4</text>
<line x1="27.3" y1="685.28" x2="31.7" y2="685.28" stroke="#2c2c2c" stroke-width="1.2" stroke-linecap="butt"/>
<text transform="translate(27 689.78) scale(0.91 1)" font-size="12.6" text-anchor="end" font-weight="normal" fill="#1a1a1a" stroke="#1a1a1a" stroke-width="0.22">2</text>
<text transform="translate(27 713.8) scale(0.91 1)" font-size="12.6" text-anchor="end" font-weight="normal" fill="#1a1a1a" stroke="#1a1a1a" stroke-width="0.22">0</text>
<rect x="36.3" y="594.4" width="26" height="114.9" fill="#fff" stroke="#2c2c2c" stroke-width="1.15"/>
<rect x="62.3" y="682.4" width="26.8" height="26.9" fill="#111" stroke="#111" stroke-width="1.0"/>
<line x1="49.7" y1="580.9" x2="49.7" y2="594.4" stroke="#3a3a3a" stroke-width="1.2" stroke-linecap="butt"/>
<line x1="46" y1="580.9" x2="53.4" y2="580.9" stroke="#3a3a3a" stroke-width="1.2" stroke-linecap="butt"/>
<line x1="76.1" y1="671.6" x2="76.1" y2="682.4" stroke="#3a3a3a" stroke-width="1.2" stroke-linecap="butt"/>
<line x1="72.4" y1="671.6" x2="79.8" y2="671.6" stroke="#3a3a3a" stroke-width="1.2" stroke-linecap="butt"/>
<text transform="translate(64 564.7)" font-size="11.65" text-anchor="middle" font-weight="normal" fill="#1a1a1a" stroke="#1a1a1a" stroke-width="0.22">0-15 min</text>
<text transform="translate(76.5 668.6)" font-size="13.3" text-anchor="middle" font-weight="normal" fill="#1a1a1a" stroke="#1a1a1a" stroke-width="0.35">***</text>
<text transform="translate(10.4 640.4) rotate(-90)" font-size="11.6" text-anchor="middle" font-weight="normal" fill="#1a1a1a" stroke="#1a1a1a" stroke-width="0.22">AUC Insulin</text>
<line x1="124.1" y1="564.6" x2="124.1" y2="709.9" stroke="#2c2c2c" stroke-width="1.2" stroke-linecap="butt"/>
<line x1="119.7" y1="709.3" x2="186.8" y2="709.3" stroke="#2c2c2c" stroke-width="1.2" stroke-linecap="butt"/>
<line x1="119.7" y1="565.2" x2="124.1" y2="565.2" stroke="#2c2c2c" stroke-width="1.2" stroke-linecap="butt"/>
<text transform="translate(118.3 569.7) scale(0.91 1)" font-size="12.6" text-anchor="end" font-weight="normal" fill="#1a1a1a" stroke="#1a1a1a" stroke-width="0.22">30</text>
<line x1="119.7" y1="613.23" x2="124.1" y2="613.23" stroke="#2c2c2c" stroke-width="1.2" stroke-linecap="butt"/>
<text transform="translate(118.3 617.73) scale(0.91 1)" font-size="12.6" text-anchor="end" font-weight="normal" fill="#1a1a1a" stroke="#1a1a1a" stroke-width="0.22">20</text>
<line x1="119.7" y1="661.27" x2="124.1" y2="661.27" stroke="#2c2c2c" stroke-width="1.2" stroke-linecap="butt"/>
<text transform="translate(118.3 665.77) scale(0.91 1)" font-size="12.6" text-anchor="end" font-weight="normal" fill="#1a1a1a" stroke="#1a1a1a" stroke-width="0.22">10</text>
<text transform="translate(118.3 713.8) scale(0.91 1)" font-size="12.6" text-anchor="end" font-weight="normal" fill="#1a1a1a" stroke="#1a1a1a" stroke-width="0.22">0</text>
<rect x="128.9" y="618.1" width="26.1" height="91.2" fill="#fff" stroke="#2c2c2c" stroke-width="1.15"/>
<rect x="155" y="681.7" width="25.8" height="27.6" fill="#111" stroke="#111" stroke-width="1.0"/>
<line x1="142.4" y1="592.7" x2="142.4" y2="618.1" stroke="#3a3a3a" stroke-width="1.2" stroke-linecap="butt"/>
<line x1="138.7" y1="592.7" x2="146.1" y2="592.7" stroke="#3a3a3a" stroke-width="1.2" stroke-linecap="butt"/>
<line x1="168.2" y1="673.9" x2="168.2" y2="681.7" stroke="#3a3a3a" stroke-width="1.2" stroke-linecap="butt"/>
<line x1="164.5" y1="673.9" x2="171.9" y2="673.9" stroke="#3a3a3a" stroke-width="1.2" stroke-linecap="butt"/>
<text transform="translate(157.7 565.7)" font-size="12.0" text-anchor="middle" font-weight="normal" fill="#1a1a1a" stroke="#1a1a1a" stroke-width="0.22">15-60 min</text>
<text transform="translate(168.2 670.6)" font-size="13.3" text-anchor="middle" font-weight="normal" fill="#1a1a1a" stroke="#1a1a1a" stroke-width="0.35">*</text>
<line x1="218" y1="564.6" x2="218" y2="709.9" stroke="#3c3c3c" stroke-width="1.5" stroke-linecap="butt"/>
<line x1="213.6" y1="709.3" x2="281.9" y2="709.3" stroke="#2c2c2c" stroke-width="1.2" stroke-linecap="butt"/>
<line x1="213.6" y1="565.2" x2="218" y2="565.2" stroke="#2c2c2c" stroke-width="1.2" stroke-linecap="butt"/>
<text transform="translate(212.2 569.7) scale(0.91 1)" font-size="12.6" text-anchor="end" font-weight="normal" fill="#1a1a1a" stroke="#1a1a1a" stroke-width="0.22">12</text>
<line x1="213.6" y1="589.22" x2="218" y2="589.22" stroke="#2c2c2c" stroke-width="1.2" stroke-linecap="butt"/>
<text transform="translate(212.2 593.72) scale(0.91 1)" font-size="12.6" text-anchor="end" font-weight="normal" fill="#1a1a1a" stroke="#1a1a1a" stroke-width="0.22">10</text>
<line x1="213.6" y1="613.23" x2="218" y2="613.23" stroke="#2c2c2c" stroke-width="1.2" stroke-linecap="butt"/>
<text transform="translate(212.2 617.73) scale(0.91 1)" font-size="12.6" text-anchor="end" font-weight="normal" fill="#1a1a1a" stroke="#1a1a1a" stroke-width="0.22">8</text>
<line x1="213.6" y1="637.25" x2="218" y2="637.25" stroke="#2c2c2c" stroke-width="1.2" stroke-linecap="butt"/>
<text transform="translate(212.2 641.75) scale(0.91 1)" font-size="12.6" text-anchor="end" font-weight="normal" fill="#1a1a1a" stroke="#1a1a1a" stroke-width="0.22">6</text>
<line x1="213.6" y1="661.27" x2="218" y2="661.27" stroke="#2c2c2c" stroke-width="1.2" stroke-linecap="butt"/>
<text transform="translate(212.2 665.77) scale(0.91 1)" font-size="12.6" text-anchor="end" font-weight="normal" fill="#1a1a1a" stroke="#1a1a1a" stroke-width="0.22">4</text>
<line x1="213.6" y1="685.28" x2="218" y2="685.28" stroke="#2c2c2c" stroke-width="1.2" stroke-linecap="butt"/>
<text transform="translate(212.2 689.78) scale(0.91 1)" font-size="12.6" text-anchor="end" font-weight="normal" fill="#1a1a1a" stroke="#1a1a1a" stroke-width="0.22">2</text>
<text transform="translate(212.2 713.8) scale(0.91 1)" font-size="12.6" text-anchor="end" font-weight="normal" fill="#1a1a1a" stroke="#1a1a1a" stroke-width="0.22">0</text>
<rect x="223.1" y="594.7" width="25.7" height="114.6" fill="#fff" stroke="#2c2c2c" stroke-width="1.15"/>
<rect x="248.8" y="673" width="25.8" height="36.3" fill="#111" stroke="#111" stroke-width="1.0"/>
<line x1="236" y1="575.7" x2="236" y2="594.7" stroke="#3a3a3a" stroke-width="1.2" stroke-linecap="butt"/>
<line x1="232.3" y1="575.7" x2="239.7" y2="575.7" stroke="#3a3a3a" stroke-width="1.2" stroke-linecap="butt"/>
<line x1="262.3" y1="664.4" x2="262.3" y2="673" stroke="#3a3a3a" stroke-width="1.2" stroke-linecap="butt"/>
<line x1="258.6" y1="664.4" x2="266" y2="664.4" stroke="#3a3a3a" stroke-width="1.2" stroke-linecap="butt"/>
<text transform="translate(254 565.4)" font-size="12.1" text-anchor="middle" font-weight="normal" fill="#1a1a1a" stroke="#1a1a1a" stroke-width="0.22">60-70 min</text>
<text transform="translate(262.3 662.4)" font-size="12.8" text-anchor="middle" font-weight="normal" fill="#1a1a1a" stroke="#1a1a1a" stroke-width="0.35">**</text>
<text transform="translate(313.8 534.6)" font-size="18.7" text-anchor="start" font-weight="bold" fill="#111">F</text>
<rect x="352" y="547" width="15.6" height="7.2" fill="#fff" stroke="#2c2c2c" stroke-width="1.1"/>
<rect x="413.4" y="544.9" width="18.5" height="10.4" fill="#111" stroke="#111" stroke-width="0.5"/>
<text transform="translate(376.2 554.6)" font-size="12.0" text-anchor="start" font-weight="normal" fill="#1a1a1a" stroke="#1a1a1a" stroke-width="0.22">Bl/6N</text>
<text transform="translate(439.4 554)" font-size="12.0" text-anchor="start" font-weight="normal" fill="#1a1a1a" stroke="#1a1a1a" stroke-width="0.22">Bl/6J</text>
<line x1="353.3" y1="563.8" x2="353.3" y2="708.9" stroke="#2c2c2c" stroke-width="1.2" stroke-linecap="butt"/>
<line x1="348.9" y1="708.3" x2="420.2" y2="708.3" stroke="#2c2c2c" stroke-width="1.2" stroke-linecap="butt"/>
<line x1="348.9" y1="564.4" x2="353.3" y2="564.4" stroke="#2c2c2c" stroke-width="1.2" stroke-linecap="butt"/>
<text transform="translate(347.7 568.5) scale(0.894 1)" font-size="13.1" text-anchor="end" font-weight="normal" fill="#1a1a1a" stroke="#1a1a1a" stroke-width="0.22">2.4</text>
<line x1="348.9" y1="588.38" x2="353.3" y2="588.38" stroke="#2c2c2c" stroke-width="1.2" stroke-linecap="butt"/>
<text transform="translate(347.7 592.48) scale(0.894 1)" font-size="13.1" text-anchor="end" font-weight="normal" fill="#1a1a1a" stroke="#1a1a1a" stroke-width="0.22">2.0</text>
<line x1="348.9" y1="612.37" x2="353.3" y2="612.37" stroke="#2c2c2c" stroke-width="1.2" stroke-linecap="butt"/>
<text transform="translate(347.7 616.47) scale(0.894 1)" font-size="13.1" text-anchor="end" font-weight="normal" fill="#1a1a1a" stroke="#1a1a1a" stroke-width="0.22">1.6</text>
<line x1="348.9" y1="636.35" x2="353.3" y2="636.35" stroke="#2c2c2c" stroke-width="1.2" stroke-linecap="butt"/>
<text transform="translate(347.7 640.45) scale(0.894 1)" font-size="13.1" text-anchor="end" font-weight="normal" fill="#1a1a1a" stroke="#1a1a1a" stroke-width="0.22">1.2</text>
<line x1="348.9" y1="660.33" x2="353.3" y2="660.33" stroke="#2c2c2c" stroke-width="1.2" stroke-linecap="butt"/>
<text transform="translate(347.7 664.43) scale(0.894 1)" font-size="13.1" text-anchor="end" font-weight="normal" fill="#1a1a1a" stroke="#1a1a1a" stroke-width="0.22">0.8</text>
<line x1="348.9" y1="684.32" x2="353.3" y2="684.32" stroke="#2c2c2c" stroke-width="1.2" stroke-linecap="butt"/>
<text transform="translate(347.7 688.42) scale(0.894 1)" font-size="13.1" text-anchor="end" font-weight="normal" fill="#1a1a1a" stroke="#1a1a1a" stroke-width="0.22">0.4</text>
<text transform="translate(347.7 712.4) scale(0.894 1)" font-size="13.1" text-anchor="end" font-weight="normal" fill="#1a1a1a" stroke="#1a1a1a" stroke-width="0.22">0</text>
<rect x="359.7" y="584.5" width="27" height="123.8" fill="#fff" stroke="#2c2c2c" stroke-width="1.15"/>
<rect x="386.7" y="624.2" width="27.9" height="84.1" fill="#111" stroke="#111" stroke-width="1.0"/>
<line x1="373.1" y1="575.4" x2="373.1" y2="584.5" stroke="#3a3a3a" stroke-width="1.2" stroke-linecap="butt"/>
<line x1="369.4" y1="575.4" x2="376.8" y2="575.4" stroke="#3a3a3a" stroke-width="1.2" stroke-linecap="butt"/>
<line x1="400.8" y1="619.9" x2="400.8" y2="624.2" stroke="#3a3a3a" stroke-width="1.2" stroke-linecap="butt"/>
<line x1="397.1" y1="619.9" x2="404.5" y2="619.9" stroke="#3a3a3a" stroke-width="1.2" stroke-linecap="butt"/>
<text transform="translate(400.6 615)" font-size="9.5" text-anchor="middle" font-weight="normal" fill="#1a1a1a" stroke="#1a1a1a" stroke-width="0.35">**</text>
<text transform="translate(321.8 634.3) rotate(-90)" font-size="11.8" text-anchor="middle" font-weight="normal" fill="#1a1a1a" stroke="#1a1a1a" stroke-width="0.22">Plasma C-peptide (ng/ml)</text>
<text transform="translate(457.2 535.2)" font-size="18.7" text-anchor="start" font-weight="bold" fill="#111">G</text>
<line x1="485.4" y1="564.3" x2="485.4" y2="708.1" stroke="#2c2c2c" stroke-width="1.2" stroke-linecap="butt"/>
<line x1="481" y1="707.5" x2="557.2" y2="707.5" stroke="#2c2c2c" stroke-width="1.2" stroke-linecap="butt"/>
<line x1="481" y1="564.9" x2="485.4" y2="564.9" stroke="#2c2c2c" stroke-width="1.2" stroke-linecap="butt"/>
<text transform="translate(479.6 568.8) scale(0.93 1)" font-size="12.6" text-anchor="end" font-weight="normal" fill="#1a1a1a" stroke="#1a1a1a" stroke-width="0.22">2.0</text>
<line x1="481" y1="600.55" x2="485.4" y2="600.55" stroke="#2c2c2c" stroke-width="1.2" stroke-linecap="butt"/>
<text transform="translate(479.6 604.45) scale(0.93 1)" font-size="12.6" text-anchor="end" font-weight="normal" fill="#1a1a1a" stroke="#1a1a1a" stroke-width="0.22">1.5</text>
<line x1="481" y1="636.2" x2="485.4" y2="636.2" stroke="#2c2c2c" stroke-width="1.2" stroke-linecap="butt"/>
<text transform="translate(479.6 640.1) scale(0.93 1)" font-size="12.6" text-anchor="end" font-weight="normal" fill="#1a1a1a" stroke="#1a1a1a" stroke-width="0.22">1.0</text>
<line x1="481" y1="671.85" x2="485.4" y2="671.85" stroke="#2c2c2c" stroke-width="1.2" stroke-linecap="butt"/>
<text transform="translate(479.6 675.75) scale(0.93 1)" font-size="12.6" text-anchor="end" font-weight="normal" fill="#1a1a1a" stroke="#1a1a1a" stroke-width="0.22">0.5</text>
<text transform="translate(479.6 711.4) scale(0.93 1)" font-size="12.6" text-anchor="end" font-weight="normal" fill="#1a1a1a" stroke="#1a1a1a" stroke-width="0.22">0</text>
<rect x="492.5" y="631.4" width="27.5" height="76.1" fill="#fff" stroke="#2c2c2c" stroke-width="1.15"/>
<rect x="520" y="601.4" width="28.6" height="106.1" fill="#111" stroke="#111" stroke-width="1.0"/>
<line x1="506.1" y1="618.8" x2="506.1" y2="631.4" stroke="#3a3a3a" stroke-width="1.2" stroke-linecap="butt"/>
<line x1="502.4" y1="618.8" x2="509.8" y2="618.8" stroke="#3a3a3a" stroke-width="1.2" stroke-linecap="butt"/>
<line x1="535" y1="585.6" x2="535" y2="601.4" stroke="#3a3a3a" stroke-width="1.2" stroke-linecap="butt"/>
<line x1="531.3" y1="585.6" x2="538.7" y2="585.6" stroke="#3a3a3a" stroke-width="1.2" stroke-linecap="butt"/>
<text transform="translate(458 634.5) rotate(-90)" font-size="12.5" text-anchor="middle" font-weight="normal" fill="#1a1a1a" stroke="#1a1a1a" stroke-width="0.22">Beta cell mass (mg)</text>
</svg>
</body></html>
